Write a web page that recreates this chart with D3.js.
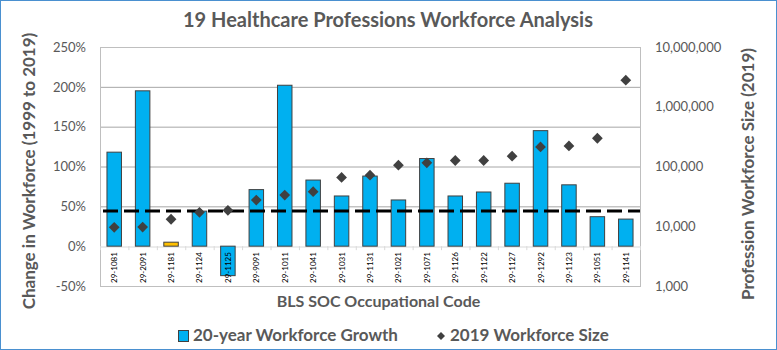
<!DOCTYPE html>
<html><head><meta charset="utf-8">
<script src="https://cdn.jsdelivr.net/npm/d3@7"></script>
<style>
html,body{margin:0;padding:0;background:#fff;}
svg{display:block;font-family:Lato,"Open Sans",sans-serif;}
</style></head>
<body><svg id="chart" width="777" height="350"></svg>
<script>
const codes = ["29-1081","29-2091","29-1181","29-1124","29-1125","29-9091","29-1011","29-1041","29-1031","29-1131","29-1021","29-1071","29-1126","29-1122","29-1127","29-1292","29-1123","29-1051","29-1141"];
const growthPct = [118,195,5,44,-37,71,202,83,63,88,58,110,63,68,79,145,77,37,34];
const workforce2019 = [9600,9700,13100,17100,18500,27400,33200,37900,65600,71600,105000,115000,126000,126000,149000,213000,221000,297000,2780000];
const highlightCodes = ["29-1181"];
const avgGrowth = [44];
const leftTicks = [-50,0,50,100,150,200,250];
const rightTicks = [1000,10000,100000,1000000,10000000];

const svg = d3.select("#chart");
const W = 777, H = 350;
const m = {l:100, r:640, t:47, b:286};
const textCol = "#595959";

// outer border
svg.append("rect").attr("x",0.5).attr("y",0.5).attr("width",W-1).attr("height",H-1)
  .attr("fill","#fff").attr("stroke","#4A90D0").attr("stroke-width",1);

const x = d3.scaleBand().domain(codes).range([m.l,m.r]).paddingInner(0.49).paddingOuter(0.245);
const yL = d3.scaleLinear().domain([-50,250]).range([m.b,m.t]);
const yR = d3.scaleLog().domain([1000,1e7]).range([m.b,m.t]);

// gridlines
const grid = svg.append("g").attr("transform",`translate(${m.l},0)`)
  .call(d3.axisLeft(yL).tickValues(leftTicks.filter(v=>v!==0)).tickSize(-(m.r-m.l)).tickFormat(""));
grid.select(".domain").remove();
grid.selectAll("line").attr("stroke","#A6A6A6").attr("stroke-width",1);

// plot border
svg.append("rect").attr("x",m.l+0.5).attr("y",m.t+0.5).attr("width",m.r-m.l).attr("height",m.b-m.t)
  .attr("fill","none").attr("stroke","#BFBFBF");

// zero axis with category ticks
const xAxis = svg.append("g").attr("transform",`translate(0,${Math.round(yL(0))+0.5})`)
  .call(d3.axisBottom(x).tickSize(0).tickFormat(""));
xAxis.select(".domain").attr("stroke","#D9D9D9");
const bounds = codes.map((c,i)=>m.l + i*x.step()).concat([m.r]);
svg.append("g").selectAll("line").data(bounds).join("line")
  .attr("x1",d=>d+0.5).attr("x2",d=>d+0.5)
  .attr("y1",yL(0)).attr("y2",yL(0)+4).attr("stroke","#D9D9D9");

// bars
svg.append("g").selectAll("rect").data(codes).join("rect")
  .attr("x",d=>x(d)).attr("width",x.bandwidth())
  .attr("y",(d,i)=>yL(Math.max(0,growthPct[i])))
  .attr("height",(d,i)=>Math.abs(yL(growthPct[i])-yL(0)))
  .attr("fill",d=>highlightCodes.includes(d)?"#FFC000":"#00B0F0")
  .attr("stroke","#404040").attr("stroke-width",1);

// category labels (inside, vertical)
svg.append("g").selectAll("text").data(codes).join("text")
  .attr("transform",d=>`translate(${x(d)+x.bandwidth()/2+3},${yL(0)+6}) rotate(-90)`)
  .attr("text-anchor","end").attr("font-size",8).attr("fill","#000")
  .text(d=>d);

// dashed average line
svg.append("g").selectAll("line").data(avgGrowth).join("line")
  .attr("x1",m.l+3).attr("x2",m.r).attr("y1",d=>yL(d)).attr("y2",d=>yL(d))
  .attr("stroke","#000").attr("stroke-width",3).attr("stroke-dasharray","15,6");

// diamonds
const diamond = d3.symbol().type(d3.symbolSquare).size(58);
svg.append("g").selectAll("path").data(codes).join("path")
  .attr("d",diamond)
  .attr("transform",(d,i)=>`translate(${x(d)+x.bandwidth()/2},${yR(workforce2019[i])}) rotate(45)`)
  .attr("fill","#404040");

// left axis
const la = svg.append("g").attr("transform",`translate(${m.l},0)`)
  .call(d3.axisLeft(yL).tickValues(leftTicks).tickSize(0).tickPadding(14).tickFormat(d=>d+"%"));
la.select(".domain").remove();
la.selectAll("text").attr("font-size",13).attr("fill",textCol).attr("font-family","Lato");

// right axis
const ra = svg.append("g").attr("transform",`translate(${m.r},0)`)
  .call(d3.axisRight(yR).tickValues(rightTicks).tickSize(0).tickPadding(15).tickFormat(d3.format(",")));
ra.select(".domain").remove();
ra.selectAll("text").attr("font-size",13).attr("fill",textCol).attr("font-family","Lato");

// titles
svg.append("text").attr("x",388).attr("y",27).attr("text-anchor","middle")
  .attr("font-size",20).attr("font-weight","bold").attr("fill",textCol)
  .text("19 Healthcare Professions Workforce Analysis");
svg.append("text").attr("transform","translate(35,171) rotate(-90)").attr("text-anchor","middle")
  .attr("font-size",17).attr("font-weight","bold").attr("fill",textCol)
  .text("Change in Workforce (1999 to 2019)");
svg.append("text").attr("transform","translate(754,174) rotate(-90)").attr("text-anchor","middle")
  .attr("font-size",17).attr("font-weight","bold").attr("fill",textCol)
  .text("Profession Workforce Size (2019)");
svg.append("text").attr("x",378.5).attr("y",307).attr("text-anchor","middle")
  .attr("font-size",16).attr("font-weight","bold").attr("fill",textCol)
  .text("BLS SOC Occupational Code");

// legend
const lg = svg.append("g");
lg.append("rect").attr("x",178.5).attr("y",330.5).attr("width",10).attr("height",11)
  .attr("fill","#00B0F0").attr("stroke","#404040");
lg.append("text").attr("x",193).attr("y",341).attr("font-size",17).attr("font-weight","bold")
  .attr("fill",textCol).text("20-year Workforce Growth");
lg.append("path").attr("d",d3.symbol().type(d3.symbolSquare).size(32))
  .attr("transform","translate(441,336) rotate(45)").attr("fill","#404040");
lg.append("text").attr("x",450).attr("y",341).attr("font-size",17).attr("font-weight","bold")
  .attr("fill",textCol).text("2019 Workforce Size");
</script></body></html>
